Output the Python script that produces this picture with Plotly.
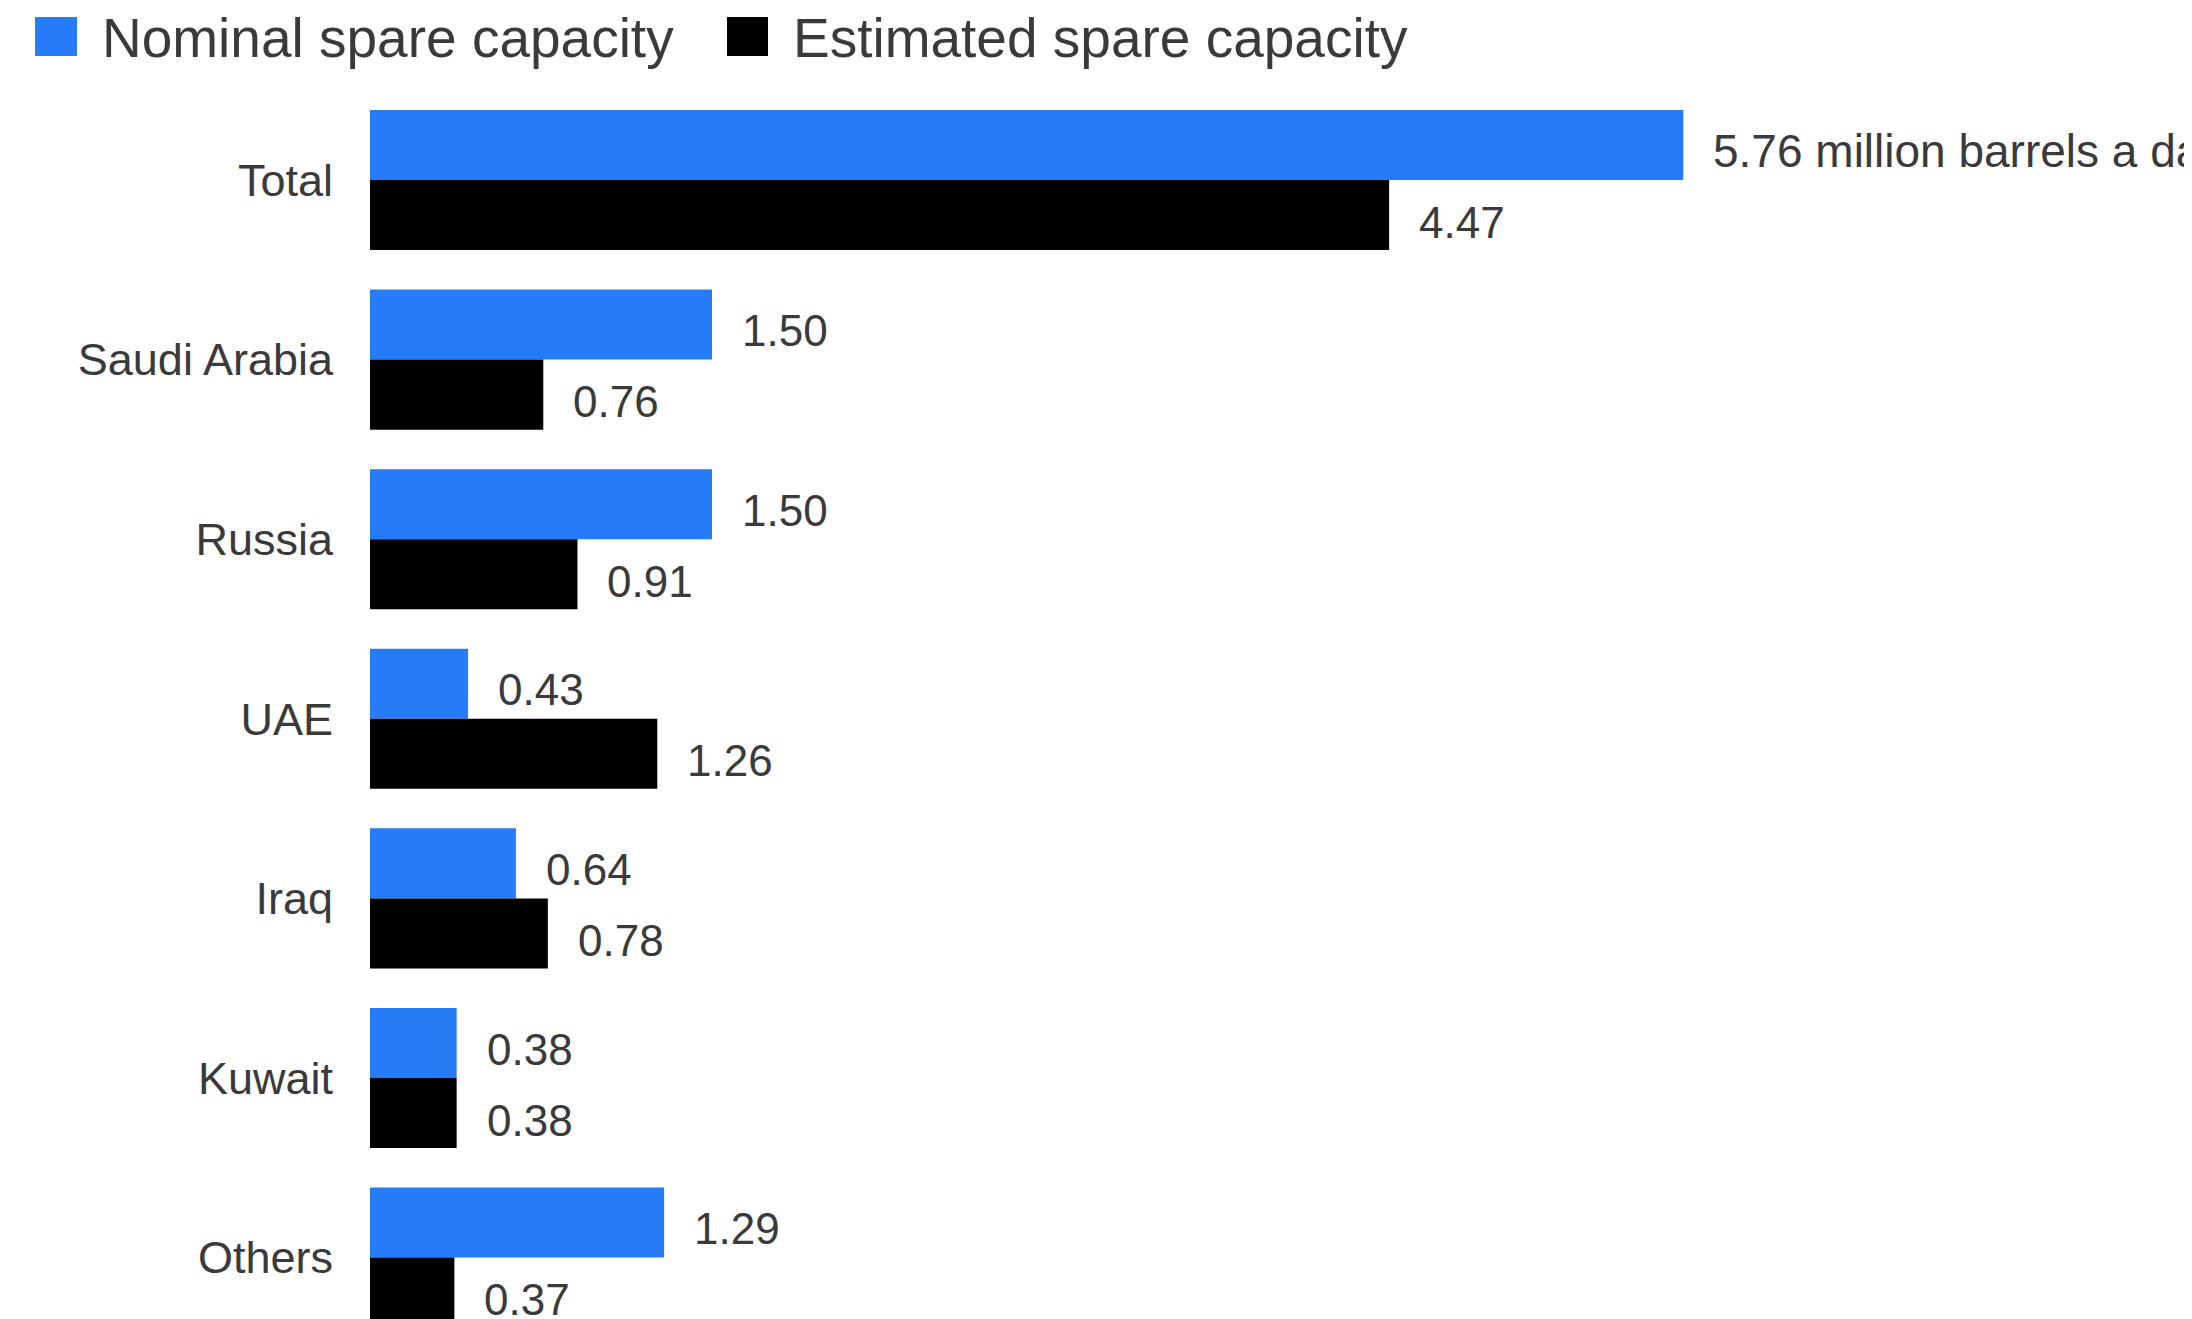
import plotly.graph_objects as go

categories = ["Total", "Saudi Arabia", "Russia", "UAE", "Iraq", "Kuwait", "Others"]
nominal = [5.76, 1.50, 1.50, 0.43, 0.64, 0.38, 1.29]
estimated = [4.47, 0.76, 0.91, 1.26, 0.78, 0.38, 0.37]
nominal_labels = ["5.76 million barrels a day", "1.50", "1.50", "0.43", "0.64", "0.38", "1.29"]
estimated_labels = ["4.47", "0.76", "0.91", "1.26", "0.78", "0.38", "0.37"]
series_names = ["Nominal spare capacity", "Estimated spare capacity"]

BLUE = "#267CF6"
BLACK = "#000000"
TXT = "#3a3a3a"
FONT = "Liberation Sans, Arial, sans-serif"

OFF = 8  # browser default body margin
W, H = 2192, 1319
ML, MT = 370 - OFF, 180 - OFF - 100
PITCH = 179.6
SCALE = 228.0

fig = go.Figure()
fig.add_trace(go.Bar(orientation="h", y=categories, x=nominal, name=series_names[0],
                     marker=dict(color=BLUE, line=dict(width=0))))
fig.add_trace(go.Bar(orientation="h", y=categories, x=estimated, name=series_names[1],
                     marker=dict(color=BLACK, line=dict(width=0))))

annotations = []
for c, v, t in zip(categories, nominal, nominal_labels):
    size = 46 if len(t) > 6 else 44
    annotations.append(dict(x=v, y=c, xref="x", yref="y", text=t, showarrow=False,
                            xanchor="left", yanchor="middle", xshift=28, yshift=29,
                            font=dict(family=FONT, size=size, color=TXT)))
for c, v, t in zip(categories, estimated, estimated_labels):
    annotations.append(dict(x=v, y=c, xref="x", yref="y", text=t, showarrow=False,
                            xanchor="left", yanchor="middle", xshift=28, yshift=-42,
                            font=dict(family=FONT, size=44, color=TXT)))

# custom legend (page pixel positions converted to paper coordinates)
PW = W - ML
PH = H - MT
def px(x):
    return (x - OFF - ML) / PW
def py(y):
    return (H - (y - OFF)) / PH

shapes = [
    dict(type="rect", xref="paper", yref="paper", x0=px(35), x1=px(77), y0=py(56), y1=py(17),
         fillcolor=BLUE, line=dict(width=0)),
    dict(type="rect", xref="paper", yref="paper", x0=px(727), x1=px(768), y0=py(56), y1=py(17),
         fillcolor=BLACK, line=dict(width=0)),
]
annotations.append(dict(x=px(100), y=py(38), xref="paper", yref="paper", text=series_names[0],
                        showarrow=False, xanchor="left", yanchor="middle",
                        font=dict(family=FONT, size=55, color=TXT)))
annotations.append(dict(x=px(791), y=py(38), xref="paper", yref="paper", text=series_names[1],
                        showarrow=False, xanchor="left", yanchor="middle",
                        font=dict(family=FONT, size=55, color=TXT)))

r_top = -100 / PITCH
r_bot = r_top + PH / PITCH

fig.update_layout(
    width=W, height=H, autosize=False,
    margin=dict(l=ML, r=0, t=MT, b=0, pad=0),
    paper_bgcolor="white", plot_bgcolor="white",
    barmode="group", bargap=0.22, bargroupgap=0,
    showlegend=False,
    annotations=annotations, shapes=shapes,
    xaxis=dict(visible=False, range=[0, PW / SCALE], fixedrange=True),
    yaxis=dict(type="category", categoryorder="array", categoryarray=categories,
               range=[r_bot, r_top], showgrid=False, zeroline=False, showline=False,
               ticks="", ticklabelstandoff=36,
               tickfont=dict(family=FONT, size=45, color=TXT)),
)

fig.write_html("out.html")
